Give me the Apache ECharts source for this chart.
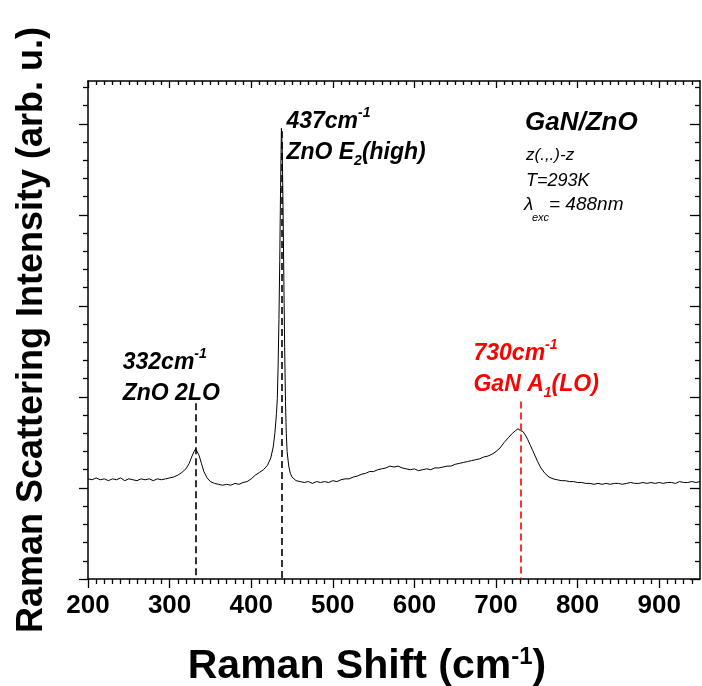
<!DOCTYPE html>
<html>
<head>
<meta charset="utf-8">
<script src="https://cdn.jsdelivr.net/npm/echarts@6/dist/echarts.min.js"></script>
<style>
  html, body { margin: 0; padding: 0; background: #fff; }
  #chart { width: 702px; height: 686px; }
</style>
</head>
<body>
<div id="chart"></div>
<script>
// Raman spectrum of GaN/ZnO, z(.,.)-z geometry, 293 K, 488 nm excitation
const ramanShift = [
  200, 205, 210, 215, 220, 225, 230, 235, 240, 245,
  250, 255, 260, 265, 270, 275, 280, 285, 290, 295,
  300, 305, 310, 315, 320, 324, 327, 330, 332, 334,
  336, 339, 342, 346, 350, 355, 360, 365, 370, 375,
  380, 385, 390, 395, 400, 405, 410, 415, 420, 424,
  427, 429, 431, 432, 433, 434, 435, 436, 437, 438,
  439, 440, 441, 442, 443, 444, 446, 448, 450, 455,
  460, 465, 470, 475, 480, 485, 490, 495, 500, 505,
  510, 515, 520, 525, 530, 535, 540, 545, 550, 555,
  560, 565, 570, 575, 580, 585, 590, 595, 600, 605,
  610, 615, 620, 625, 630, 635, 640, 645, 650, 655,
  660, 665, 670, 675, 680, 685, 690, 695, 700, 705,
  710, 715, 720, 724, 727, 730, 733, 736, 739, 742,
  745, 748, 751, 755, 760, 765, 770, 775, 780, 785,
  790, 795, 800, 805, 810, 815, 820, 825, 830, 835,
  840, 845, 850, 855, 860, 865, 870, 875, 880, 885,
  890, 895, 900, 905, 910, 915, 920, 925, 930, 935,
  940, 945, 950
];
const intensity = [
  1.10, 1.09, 1.11, 1.09, 1.10, 1.08, 1.10, 1.09, 1.11, 1.08,
  1.10, 1.09, 1.08, 1.10, 1.09, 1.10, 1.08, 1.10, 1.09, 1.10,
  1.11, 1.12, 1.14, 1.17, 1.21, 1.27, 1.34, 1.40, 1.43, 1.41,
  1.36, 1.27, 1.18, 1.11, 1.07, 1.05, 1.04, 1.03, 1.04, 1.03,
  1.05, 1.04, 1.06, 1.07, 1.10, 1.14, 1.17, 1.20, 1.25, 1.33,
  1.45, 1.60, 1.82, 1.98, 2.35, 2.85, 3.50, 4.30, 4.95, 4.75,
  4.10, 3.30, 2.55, 1.95, 1.60, 1.40, 1.24, 1.16, 1.12, 1.08,
  1.07, 1.06, 1.07, 1.05, 1.07, 1.06, 1.07, 1.06, 1.08, 1.07,
  1.09, 1.10, 1.10, 1.12, 1.13, 1.15, 1.16, 1.18, 1.18, 1.20,
  1.21, 1.22, 1.24, 1.23, 1.24, 1.22, 1.21, 1.20, 1.21, 1.19,
  1.20, 1.21, 1.20, 1.22, 1.22, 1.23, 1.24, 1.24, 1.26, 1.27,
  1.28, 1.29, 1.30, 1.31, 1.32, 1.34, 1.35, 1.37, 1.40, 1.44,
  1.50, 1.55, 1.60, 1.63, 1.65, 1.63, 1.62, 1.58, 1.53, 1.47,
  1.41, 1.35, 1.29, 1.22, 1.16, 1.12, 1.10, 1.09, 1.08, 1.08,
  1.07, 1.07, 1.06, 1.06, 1.05, 1.05, 1.04, 1.05, 1.04, 1.05,
  1.04, 1.05, 1.05, 1.04, 1.05, 1.06, 1.05, 1.05, 1.06, 1.05,
  1.06, 1.05, 1.06, 1.05, 1.06, 1.06, 1.05, 1.07, 1.06, 1.06,
  1.07, 1.06, 1.07
];

// Assigned phonon modes: position, top of the marker line, label, colour
const modeShift = [332, 437, 730];
const modeLineTop = [1.93, 4.92, 1.95];
const modeLabel = [
  '{t|332cm}{sup|-1}\n{t|ZnO 2LO}',
  '{t|437cm}{sup|-1}\n{t|ZnO E}{sub|2}{t|(high)}',
  '{t|730cm}{sup|-1}\n{t|GaN A}{sub|1}{t|(LO)}'
];
const modeColor = ['#000000', '#000000', '#ff0000'];

// Axis ticks
const xMajorTicks = [200, 300, 400, 500, 600, 700, 800, 900];
const xMinorTicks = [];
for (let v = 210; v < 950; v += 10) if (v % 100 !== 0) xMinorTicks.push(v);
const yMajorTicks = [0, 1, 2, 3, 4, 5];
const yMinorTicks = [];
for (let i = 1; i <= 27; i++) if (i % 5 !== 0) yMinorTicks.push(+(i * 0.2).toFixed(1));

const FONT = '"Liberation Sans", Arial, Helvetica, sans-serif';
const X_MIN = 200, X_MAX = 950, Y_MIN = 0, Y_MAX = 5.47;

function tickAxis(kind, position, ticks, len, inside, showLine) {
  return {
    type: 'value', position: position,
    min: kind === 'x' ? X_MIN : Y_MIN,
    max: kind === 'x' ? X_MAX : Y_MAX,
    axisLine: { show: showLine, onZero: false, lineStyle: { color: '#000', width: 1.5 } },
    axisTick: { show: true, customValues: ticks, length: len, inside: inside,
                lineStyle: { color: '#000', width: 1.3 } },
    axisLabel: { show: false },
    splitLine: { show: false }
  };
}

// Bottom axis with labels and title
const xMain = tickAxis('x', 'bottom', xMajorTicks, 9, false, true);
xMain.axisLabel = {
  show: true, customValues: xMajorTicks, margin: 14,
  color: '#000', fontFamily: FONT, fontWeight: 'bold', fontSize: 26
};
xMain.name = '{b|Raman Shift (cm}{s|-1}{b|)}';
xMain.nameLocation = 'middle';
xMain.nameGap = 66;
xMain.nameTextStyle = {
  padding: [0, 54, 0, 0],
  rich: {
    b: { fontFamily: FONT, fontWeight: 'bold', fontSize: 41, color: '#000', lineHeight: 44 },
    s: { fontFamily: FONT, fontWeight: 'bold', fontSize: 24, color: '#000', lineHeight: 24, verticalAlign: 'top' }
  }
};

// Left axis with title
const yMain = tickAxis('y', 'left', yMajorTicks, 9, false, true);
yMain.name = 'Raman Scattering Intensity (arb. u.)';
yMain.nameLocation = 'middle';
yMain.nameGap = 38;
yMain.nameTextStyle = { fontFamily: FONT, fontWeight: 'bold', fontSize: 36, color: '#000' };

const labelRich = (color) => ({
  t:   { fontFamily: FONT, fontWeight: 'bold', fontStyle: 'italic', fontSize: 23, color: color, lineHeight: 31 },
  sup: { fontFamily: FONT, fontWeight: 'bold', fontStyle: 'italic', fontSize: 14, color: color, lineHeight: 13, verticalAlign: 'top' },
  sub: { fontFamily: FONT, fontWeight: 'bold', fontStyle: 'italic', fontSize: 14, color: color, lineHeight: 19, verticalAlign: 'bottom' }
});
const labelOffset = [[-73, -56], [5, -25], [-47, -63]];

const option = {
  animation: false,
  backgroundColor: '#ffffff',
  grid: { left: 88, right: 2, top: 81, bottom: 107, containLabel: false, outerBoundsMode: 'none' },
  xAxis: [
    xMain,
    tickAxis('x', 'bottom', xMinorTicks, 5, false, false),
    tickAxis('x', 'top', xMajorTicks, 7, true, true),
    tickAxis('x', 'top', xMinorTicks, 4, true, false)
  ],
  yAxis: [
    yMain,
    tickAxis('y', 'left', yMinorTicks, 5, false, false),
    tickAxis('y', 'right', yMajorTicks, 10, true, true),
    tickAxis('y', 'right', yMinorTicks, 5, true, false)
  ],
  series: [{
    type: 'line',
    xAxisIndex: 0, yAxisIndex: 0,
    data: ramanShift.map((x, i) => [x, intensity[i]]),
    showSymbol: false,
    symbol: 'none',
    lineStyle: { color: '#000', width: 1 },
    silent: true,
    markLine: {
      silent: true,
      symbol: ['none', 'none'],
      label: { show: false },
      data: modeShift.map((x, i) => [
        { coord: [x, modeLineTop[i]], lineStyle: { color: modeColor[i], type: [7, 4], width: 1.6 } },
        { coord: [x, Y_MIN] }
      ])
    },
    markPoint: {
      silent: true,
      symbolSize: 0,
      itemStyle: { color: 'transparent' },
      data: modeShift.map((x, i) => ({
        coord: [x, modeLineTop[i]],
        label: {
          show: true,
          position: labelOffset[i],
          formatter: modeLabel[i],
          rich: labelRich(modeColor[i])
        }
      }))
    }
  }],
  graphic: [
    { type: 'text', left: 525, top: 110,
      style: { text: 'GaN/ZnO', fontFamily: FONT, fontWeight: 'bold', fontStyle: 'italic', fontSize: 26, fill: '#000' } },
    { type: 'text', left: 526, top: 147,
      style: { text: 'z(.,.)-z', fontFamily: FONT, fontStyle: 'italic', fontSize: 17, fill: '#000' } },
    { type: 'text', left: 526, top: 172,
      style: { text: 'T=293K', fontFamily: FONT, fontStyle: 'italic', fontSize: 18, fill: '#000' } },
    { type: 'text', left: 524, top: 195,
      style: { text: 'λ', fontFamily: FONT, fontStyle: 'italic', fontSize: 19, fill: '#000' } },
    { type: 'text', left: 532, top: 212,
      style: { text: 'exc', fontFamily: FONT, fontStyle: 'italic', fontSize: 11, fill: '#000' } },
    { type: 'text', left: 549, top: 195,
      style: { text: '= 488nm', fontFamily: FONT, fontStyle: 'italic', fontSize: 19, fill: '#000' } }
  ]
};

const chart = echarts.init(document.getElementById('chart'), null, { renderer: 'canvas' });
chart.setOption(option);
</script>
</body>
</html>
